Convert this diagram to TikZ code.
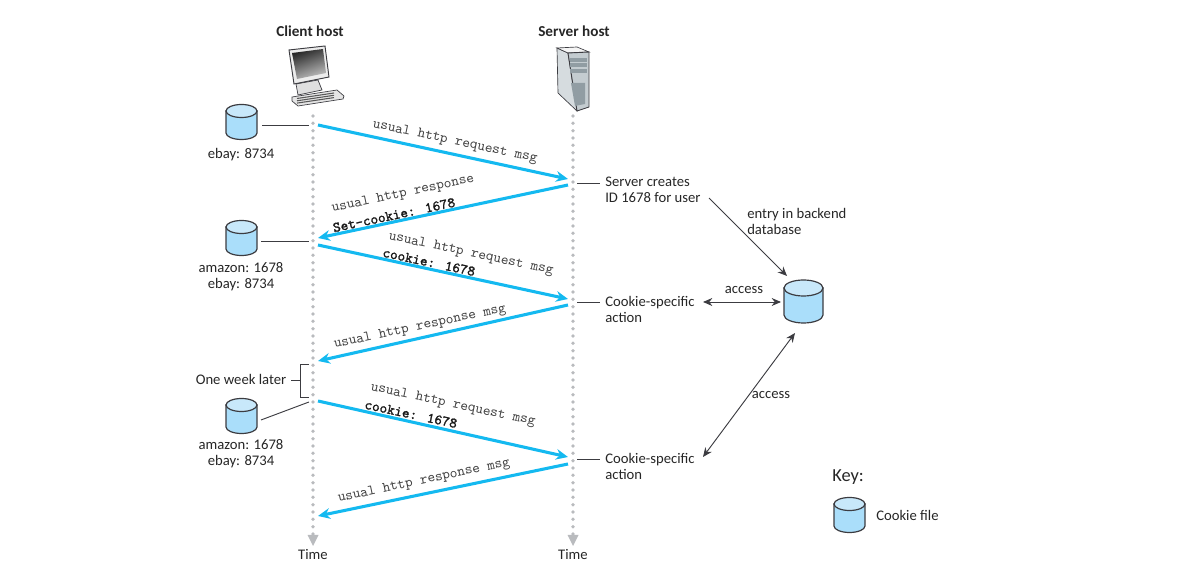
\documentclass[tikz,border=0pt]{standalone}
\usepackage{fontspec}
\setmainfont{Carlito}
\newfontfamily\msgbold{Latin Modern Mono}[FakeBold=1.5]
\usetikzlibrary{arrows.meta}
\definecolor{msgblue}{RGB}{20,185,240}
\definecolor{cookieblue}{RGB}{170,222,250}
\definecolor{cookietop}{RGB}{200,232,250}
\definecolor{dotgray}{RGB}{185,187,190}
\definecolor{linegray}{RGB}{60,60,65}
\definecolor{towerfront}{RGB}{196,204,208}
\definecolor{towerside}{RGB}{214,220,223}
\definecolor{towerdark}{RGB}{145,157,163}
\newcommand{\cookiefile}[6]{
	\coordinate (#1) at (#2,#3);
	\begin{scope}[shift={(#2,#3)},x=0.75pt,y=0.75pt]
		\def\w{#4} \def\h{#5} \def\e{#6}
		\draw[cookie body] (-\w,{\h-\e}) -- (-\w,{-\h+\e}) arc[start angle=180,end angle=360,x radius=\w,y radius=\e] -- (\w,{\h-\e}) -- cycle;
		\draw[cookie lid] (0,{\h-\e}) ellipse [x radius=\w,y radius=\e];
	\end{scope}
}
\begin{document}
\begin{tikzpicture}[x=0.75pt,y=-0.75pt,
	cookie body/.style={draw=linegray,fill=cookieblue,line width=0.9pt},
	cookie lid/.style={draw=linegray,fill=cookietop,line width=0.9pt},
	label node/.style={font=\fontsize{11}{12}\selectfont,align=left,anchor=west,inner sep=0pt,text=black!85},
	middle node/.style={font=\fontsize{11}{12}\selectfont,align=center,inner sep=0pt,text=black!85},
	host node/.style={font=\fontsize{11.4}{12}\selectfont\bfseries,inner sep=0pt,text=black!85},
	msg node/.style={font=\fontsize{10.9}{11}\selectfont\ttfamily,inner sep=0pt,text=black!75},
	bold msg/.style={font=\fontsize{10.9}{11}\selectfont\msgbold,inner sep=0pt,text=black!90},
	life line/.style={dotgray,line width=2.8pt,line cap=round,dash pattern=on 0pt off 5.5pt},
	msg line/.style={-{Stealth[length=9pt,width=8pt]},msgblue,line width=2.3pt},
	thin line/.style={linegray,line width=0.7pt},
	access line/.style={{Stealth[length=7pt,width=6pt]}-{Stealth[length=7pt,width=6pt]},linegray,line width=0.7pt}
]
	\useasboundingbox (0,0) rectangle (1190,580);

	\node[host node] (client label) at (310,31) {Client host};
	\node[host node] (server label) at (574,31) {Server host};

	% client computer
	\fill[gray!25,draw=linegray,line width=0.5pt] (296,84) -- (318,80) -- (322,90) -- (298,95) -- cycle;
	\fill[gray!20,draw=linegray,line width=0.5pt] (292,97) -- (337,90) -- (344,96) -- (343,99) -- (298,106) -- (292,101) -- cycle;
	\foreach \k in {0,1,2} {
		\draw[gray!70!black,line width=0.8pt] (297,{98.5+\k*2.3}) -- (334,{93+\k*2.3});
	}
	\fill[gray!15,draw=linegray,line width=0.7pt] (289,50) -- (325,46) -- (329,77) -- (294,84) -- cycle;
	\shade[left color=black!85,right color=black!25,middle color=black!55,shading angle=20] (292,53) -- (323,49) -- (326,73) -- (297,79) -- cycle;

	% server tower
	\fill[towerside,draw=linegray,line width=0.5pt] (557,48) -- (568,53) -- (577,111) -- (558,93) -- cycle;
	\fill[gray!8,draw=linegray,line width=0.5pt] (557,48) -- (577,47) -- (589,52) -- (568,53) -- cycle;
	\fill[towerfront,draw=linegray,line width=0.7pt] (568,53) -- (589,52) -- (589,107) -- (577,111) -- cycle;
	\foreach \k in {0,1,2} {
		\fill[towerdark] (570,{58+\k*5.3}) rectangle (587,{62+\k*5.3});
	}
	\fill[towerdark] (571,83) -- (585,83) -- (585,104) -- (575,106) -- cycle;

	% cookie files
	\cookiefile{cookie a}{241.5}{122}{15.5}{17.5}{6.5}
	\cookiefile{cookie b}{241.5}{238}{15.5}{17.5}{6.5}
	\cookiefile{cookie c}{241.5}{416}{15.5}{17.5}{6.5}
	\cookiefile{backend}{803.5}{301.5}{19.5}{21.5}{8}
	\cookiefile{cookie key}{849.5}{515}{15.5}{17.5}{6.5}

	\foreach \name/\x/\y in {
		client top/313/116, client end/313/540,
		server top/573/116, server end/573/540,
		a0/318/125, a1/568/179, a2/568/185, a3/318/238,
		a4/318/245, a5/568/299, a6/568/305, a7/318/361,
		a8/318/401, a9/568/457, a10/568/464, a11/318/516,
		ca/262/125, cb/309/125, cc/261/241, cd/309/241,
		ce/261/420, cf/309/402,
		sa/577/183, sb/600/183, sc/577/302, sd/600/302, se/577/459, sf/600/459,
		wa/291/380, wb/300.5/380, wc/309/364, wd/300.5/364, we/300.5/397, wf/309/397,
		ba/709/198, bb/787/276, bc/703/302, bd/781/302, be/703/457, bf/795/333} {
		\coordinate (\name) at (\x,\y);
	}

	\draw[life line] (client top) -- (client end);
	\draw[life line] (server top) -- (server end);
	\fill[dotgray] (307.5,535) -- (318.5,535) -- (313,546) -- cycle;
	\fill[dotgray] (567.5,535) -- (578.5,535) -- (573,546) -- cycle;

	\draw[msg line] (a0) -- (a1);
	\draw[msg line] (a2) -- (a3);
	\draw[msg line] (a4) -- (a5);
	\draw[msg line] (a6) -- (a7);
	\draw[msg line] (a8) -- (a9);
	\draw[msg line] (a10) -- (a11);

	\node[msg node,rotate=-12] (msg a) at (455,142) {usual http request msg};
	\node[msg node,rotate=12] (msg b) at (403,194) {usual http response};
	\node[bold msg,rotate=12] (msg c) at (394,215) {Set-cookie: 1678};
	\node[msg node,rotate=-12] (msg d) at (471,254) {usual http request msg};
	\node[bold msg,rotate=-12] (msg e) at (429,262) {cookie: 1678};
	\node[msg node,rotate=12] (msg f) at (420,327) {usual http response msg};
	\node[msg node,rotate=-12] (msg g) at (453,405) {usual http request msg};
	\node[bold msg,rotate=-12] (msg h) at (411,414) {cookie: 1678};
	\node[msg node,rotate=12] (msg i) at (424,481) {usual http response msg};

	\draw[thin line] (ca) -- (cb);
	\draw[thin line] (cc) -- (cd);
	\draw[thin line] (ce) -- (cf);
	\draw[thin line] (sa) -- (sb);
	\draw[thin line] (sc) -- (sd);
	\draw[thin line] (se) -- (sf);
	\draw[thin line] (wa) -- (wb);
	\draw[thin line] (wc) -- (wd) -- (we) -- (wf);

	\node[middle node] (ebay a) at (241,155) {ebay: 8734};
	\node[middle node] (store b) at (241,277) {amazon: 1678\\ebay: 8734};
	\node[middle node] (store c) at (241,454) {amazon: 1678\\ebay: 8734};
	\node[middle node] (week) at (241,379) {One week later};
	\node[middle node] (time a) at (313,555) {Time};
	\node[middle node] (time b) at (573,555) {Time};

	\node[label node] (creates) at (605,190) {Server creates\\ID 1678 for user};
	\node[label node] (action a) at (605,309) {Cookie-specific\\action};
	\node[label node] (action b) at (605,466) {Cookie-specific\\action};
	\node[label node] (entry) at (747,221.5) {entry in backend\\database};
	\node[middle node] (access a) at (744,290) {access};
	\node[middle node] (access b) at (771,395) {access};

	\draw[-{Stealth[length=7pt,width=6pt]},linegray,line width=0.7pt] (ba) -- (bb);
	\draw[access line] (bc) -- (bd);
	\draw[access line] (be) -- (bf);

	\node[label node,font=\fontsize{13.8}{14}\selectfont] (key) at (832,477) {Key:};
	\node[label node] (key text) at (876,515) {Cookie file};
\end{tikzpicture}
\end{document}
